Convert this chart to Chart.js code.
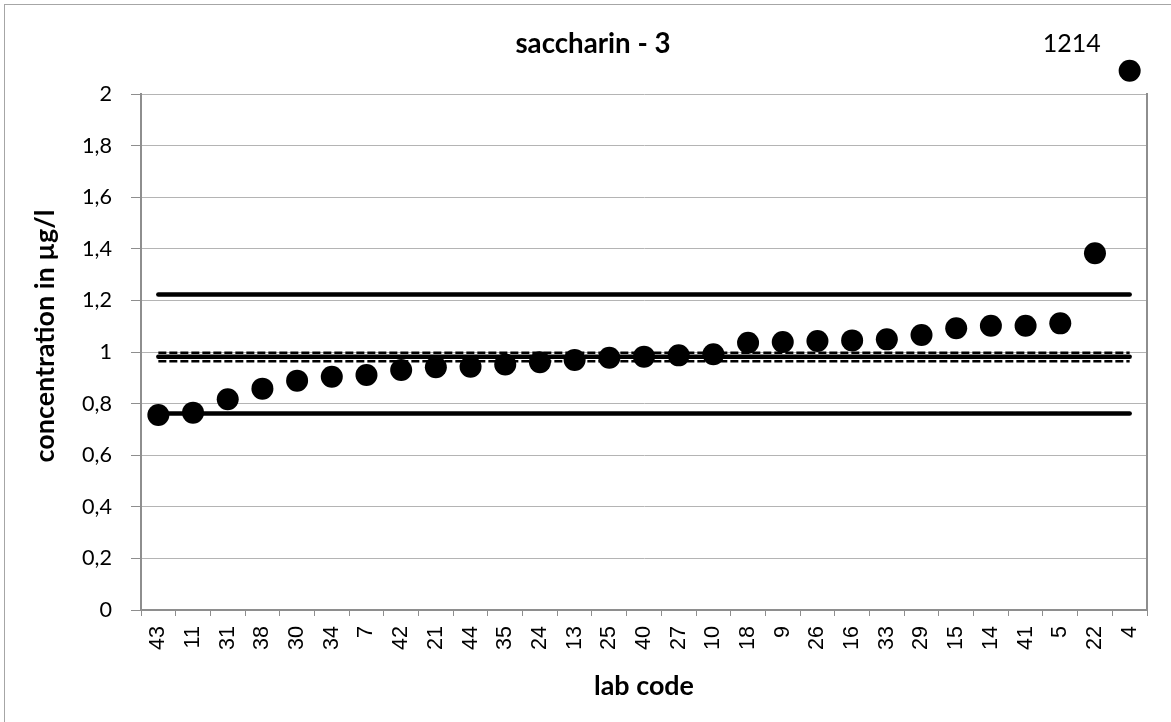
<!DOCTYPE html>
<html>
<head>
<meta charset="utf-8">
<script src="https://cdn.jsdelivr.net/npm/chart.js@4.4.0/dist/chart.umd.min.js"></script>
<style>
  html, body { margin: 0; padding: 0; background: #ffffff; }
  #wrap { width: 1171px; height: 722px; position: relative; }
</style>
</head>
<body>
<div id="wrap"><canvas id="chart" width="1171" height="722"></canvas></div>
<script>
// lab codes, sorted by reported value
const labCodes = ['43', '11', '31', '38', '30', '34', '7', '42', '21', '44', '35', '24', '13', '25',
                  '40', '27', '10', '18', '9', '26', '16', '33', '29', '15', '14', '41', '5', '22', '4'];

// reported concentrations (µg/l); lab 4 is off scale
const labValues = [0.756, 0.765, 0.817, 0.858, 0.889, 0.904, 0.911, 0.930, 0.941, 0.943, 0.952, 0.960,
                   0.969, 0.978, 0.982, 0.987, 0.991, 1.036, 1.039, 1.043, 1.045, 1.049, 1.066, 1.092,
                   1.102, 1.102, 1.111, 1.383, 1214];

// reference lines
const meanValue = 0.982;
const meanUpper = 0.997;
const meanLower = 0.964;
const limitUpper = 1.223;
const limitLower = 0.762;

const yTicks = [0, 0.2, 0.4, 0.6, 0.8, 1, 1.2, 1.4, 1.6, 1.8, 2];
const yMax = 2;

const chartTitle = 'saccharin - 3';
const yTitle = 'concentration in µg/l';
const xTitle = 'lab code';
const outlierLabel = '1214';

// values above the axis are drawn just above the top of the plot, as in the original
const plotted = labValues.map(v => v > yMax ? yMax + 0.09 : v);

function constLine(v) {
    return labCodes.map(() => v);
}

// the original uses Calibri; pick Lato sizes that give the same text widths
const measureCtx = document.createElement('canvas').getContext('2d');
function fitSize(text, weight, family, width) {
    measureCtx.font = weight + ' 100px ' + family;
    return Math.round(1000 * width / measureCtx.measureText(text).width) / 10;
}
const titleSize = fitSize(chartTitle, 'bold', 'Lato', 155);
const axisTitleSize = fitSize(xTitle, 'bold', 'Lato', 100);
const outlierSize = fitSize(outlierLabel, 'normal', 'Lato', 58);
const yTickSize = fitSize('1,8', 'normal', 'Lato', 30);
const xTickSize = fitSize('43', 'normal', 'Liberation Sans', 24);

const frameColor = '#8e8e8e';
const gridColor = '#b4b4b4';

const decorations = {
    id: 'decorations',
    afterDatasetsDraw(chart) {
        // Chart.js skips points outside the plot area, so draw those ourselves
        const ctx = chart.ctx;
        const area = chart.chartArea;
        const meta = chart.getDatasetMeta(0);
        ctx.save();
        ctx.fillStyle = '#000';
        meta.data.forEach(pt => {
            if (pt.y < area.top - 1) {
                ctx.beginPath();
                ctx.arc(pt.x, pt.y, 11, 0, Math.PI * 2);
                ctx.fill();
            }
        });
        ctx.restore();
    },
    afterDraw(chart) {
        const ctx = chart.ctx;
        const area = chart.chartArea;
        ctx.save();
        // outer border
        ctx.strokeStyle = '#a6a6a6';
        ctx.lineWidth = 1;
        ctx.strokeRect(4.5, 4.5, 1180, 730);
        // right edge of plot area
        ctx.strokeStyle = frameColor;
        ctx.lineWidth = 2;
        ctx.beginPath();
        ctx.moveTo(area.right, area.top - 1);
        ctx.lineTo(area.right, area.bottom);
        ctx.stroke();
        // title
        ctx.fillStyle = '#000';
        ctx.textAlign = 'center';
        ctx.textBaseline = 'alphabetic';
        ctx.font = 'bold ' + titleSize + 'px Lato';
        ctx.fillText(chartTitle, 593, 53);
        // y axis title
        ctx.save();
        ctx.translate(54, 336);
        ctx.rotate(-Math.PI / 2);
        ctx.font = 'bold ' + axisTitleSize + 'px Lato';
        ctx.fillText(yTitle, 0, 0);
        ctx.restore();
        // label of the off-scale point
        const meta = chart.getDatasetMeta(0);
        const last = meta.data[meta.data.length - 1];
        ctx.font = outlierSize + 'px Lato';
        ctx.fillText(outlierLabel, last.x - 58, 52);
        ctx.restore();
    }
};

new Chart(document.getElementById('chart'), {
    type: 'line',
    data: {
        labels: labCodes,
        datasets: [{
            label: 'labs',
            data: plotted,
            showLine: false,
            pointRadius: 11,
            pointHoverRadius: 11,
            pointBackgroundColor: '#000',
            pointBorderWidth: 0,
            clip: false,
            order: 0
        }, {
            label: 'upper limit',
            data: constLine(limitUpper),
            borderColor: '#000',
            borderWidth: 4.5,
            borderCapStyle: 'round',
            pointRadius: 0,
            order: 1
        }, {
            label: 'lower limit',
            data: constLine(limitLower),
            borderColor: '#000',
            borderWidth: 4.5,
            borderCapStyle: 'round',
            pointRadius: 0,
            order: 1
        }, {
            label: 'mean',
            data: constLine(meanValue),
            borderColor: '#000',
            borderWidth: 4.5,
            borderCapStyle: 'round',
            pointRadius: 0,
            order: 1
        }, {
            label: 'mean + u',
            data: constLine(meanUpper),
            borderColor: '#000',
            borderWidth: 2.5,
            borderDash: [8, 3],
            pointRadius: 0,
            order: 1
        }, {
            label: 'mean - u',
            data: constLine(meanLower),
            borderColor: '#000',
            borderWidth: 2.5,
            borderDash: [8, 3],
            pointRadius: 0,
            order: 1
        }]
    },
    options: {
        responsive: false,
        animation: false,
        layout: {
            padding: { top: 94, right: 24, left: 0, bottom: 0 }
        },
        plugins: {
            legend: { display: false },
            tooltip: { enabled: false },
            title: { display: false }
        },
        scales: {
            x: {
                type: 'category',
                offset: true,
                afterFit: function(scale) { scale.height = 112; },
                grid: {
                    offset: true,
                    drawOnChartArea: false,
                    color: frameColor,
                    tickLength: 6
                },
                border: { color: frameColor, width: 2 },
                ticks: {
                    autoSkip: false,
                    minRotation: 90,
                    maxRotation: 90,
                    padding: 10,
                    color: '#000',
                    font: { family: 'Liberation Sans', size: xTickSize }
                },
                title: {
                    display: true,
                    text: xTitle,
                    color: '#000',
                    font: { family: 'Lato', size: axisTitleSize, weight: 'bold', lineHeight: 1.2 },
                    padding: { top: 0, bottom: 20 }
                }
            },
            y: {
                min: 0,
                max: yMax,
                afterFit: function(scale) { scale.width = 141; },
                afterBuildTicks: function(scale) {
                    scale.ticks = yTicks.map(v => ({ value: v }));
                },
                grid: {
                    color: gridColor,
                    tickColor: frameColor,
                    tickLength: 10
                },
                border: { color: frameColor, width: 2 },
                ticks: {
                    padding: 19,
                    color: '#000',
                    font: { family: 'Lato', size: yTickSize },
                    callback: function(value) {
                        return String(Math.round(value * 10) / 10).replace('.', ',');
                    }
                }
            }
        }
    },
    plugins: [decorations]
});
</script>
</body>
</html>
